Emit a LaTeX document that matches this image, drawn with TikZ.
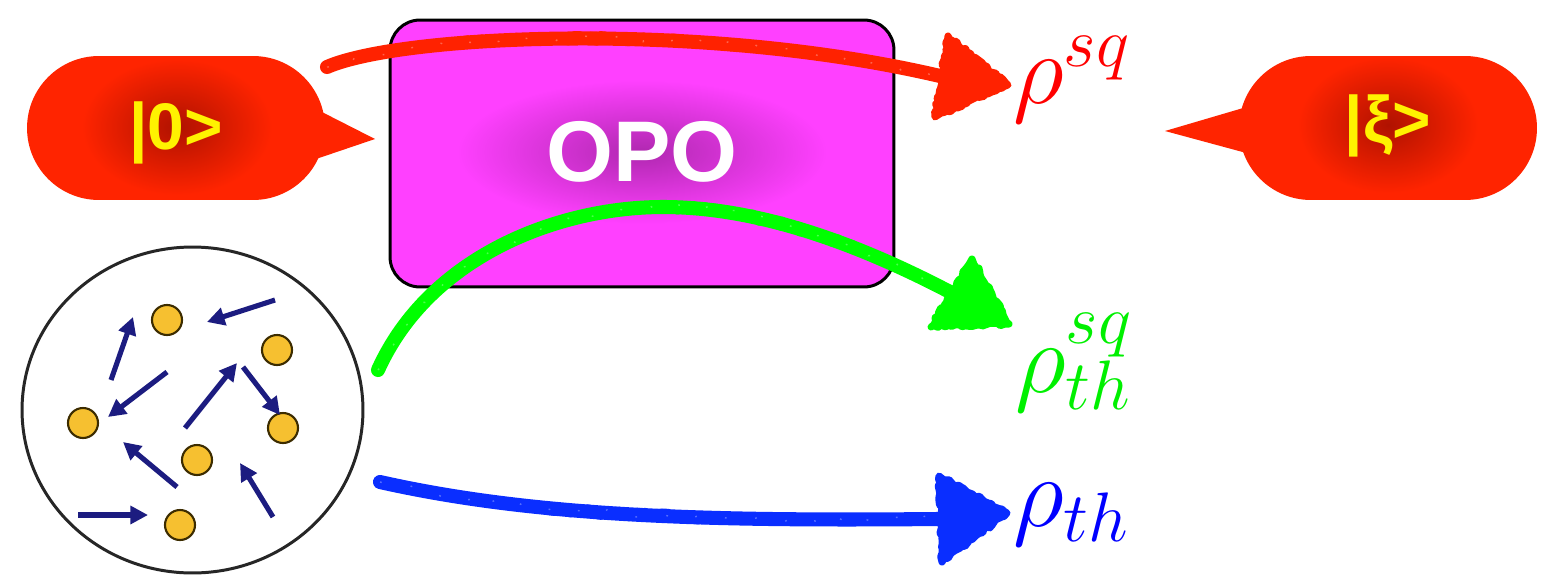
\RequirePackage{fix-cm}
\documentclass[tikz,border=0pt]{standalone}
\usepackage{fontspec}
\setsansfont{Liberation Sans}
\usetikzlibrary{arrows.meta,shapes.geometric,shapes.misc,decorations.pathmorphing}

\definecolor{bubblered}{HTML}{FF2400}
\definecolor{glowred}{HTML}{B01200}
\definecolor{opomag}{HTML}{FF40FF}
\definecolor{opoglow}{HTML}{B028B0}
\definecolor{crayonred}{HTML}{FF2200}
\definecolor{crayongreen}{HTML}{00FF00}
\definecolor{crayonblue}{HTML}{0A2EFF}
\definecolor{labelred}{HTML}{FF0000}
\definecolor{labelgreen}{HTML}{00F000}
\definecolor{labelblue}{HTML}{0000FF}
\definecolor{molnavy}{HTML}{1C1C80}
\definecolor{molgold}{HTML}{F6C030}
\definecolor{moledge}{HTML}{3C2C00}

\tikzset{
  bubble/.style={rounded rectangle, fill=bubblered, draw=none, inner sep=0pt,
    minimum width=5.96cm, minimum height=2.88cm, text=yellow,
    font=\fontsize{37.5}{45}\selectfont\sffamily\bfseries},
  opobox/.style={rectangle, rounded corners=0.6cm, fill=opomag, draw=black,
    line width=1.7pt, inner sep=0pt, minimum width=10.08cm, minimum height=5.34cm,
    text=white, font=\fontsize{49}{58}\selectfont\sffamily\bfseries},
  gasball/.style={ellipse, draw=black!85, line width=1.7pt, fill=white,
    minimum width=6.82cm, minimum height=6.52cm, inner sep=0pt},
  particle/.style={circle, fill=molgold, draw=moledge, line width=1.2pt,
    minimum size=0.6cm, inner sep=0pt},
  molarrow/.style={draw=molnavy, line width=2.9pt,
    -{Triangle[length=10pt 0 0, width=10pt 0 0]}},
  crayon/.style={draw=#1, line width=8pt, line cap=round},
  rough/.style={draw=#1, line width=3pt, line join=round, line cap=round,
    decorate, decoration={random steps, segment length=2.5pt, amplitude=1pt}},
  speck/.style={draw=white, line width=0.8pt, opacity=0.3,
    dash pattern=on 1pt off 17pt, decorate,
    decoration={random steps, segment length=3pt, amplitude=1.8pt}},
  crayonhead/.style={fill=#1, draw=#1, line width=4pt, line join=round,
    decorate, decoration={random steps, segment length=2pt, amplitude=0.9pt}},
  lab/.style={inner sep=0pt, anchor=base west, font=\fontsize{57}{68}\selectfont},
}

\newcommand\redpath{(redStart) .. controls (400,35) and (700,20) .. (redBase)}
\newcommand\greenpath{(greenStart) .. controls (430,255) and (560,207) .. (663,207)
  .. controls (760,207) and (860,245) .. (greenBase)}
\newcommand\bluepath{(blueStart) .. controls (540,518) and (720,521) .. (blueBase)}

\begin{document}
\begin{tikzpicture}[x=0.02cm, y=-0.02cm]
\pgfmathsetseed{4242}
\fill[white] (0,0) rectangle (1558,585);
\useasboundingbox (0,0) rectangle (1558,585);

% vacuum input bubble, with a soft dark glow behind its text
\fill[bubblered] (318,110) -- (375,139) -- (316,159) -- cycle;
\node[bubble, text height=25pt, text depth=0pt] (ket0) at (176,128) {};
\shade[inner color=glowred, outer color=bubblered] (177,127) ellipse (95 and 68);
\node[bubble, fill=none, text height=25pt, text depth=0pt] (ket0text) at (ket0) {|0>};

% squeezed state bubble
\fill[bubblered] (1250,106) -- (1165,131) -- (1250,154) -- cycle;
\node[bubble, text height=16pt, text depth=0pt] (ketXi) at (1388,128) {};
\shade[inner color=glowred, outer color=bubblered] (1388,125) ellipse (90 and 68);
\node[bubble, fill=none, text height=16pt, text depth=0pt] (ketXitext) at (ketXi) {|ξ>};

% the parametric oscillator
\node[opobox] (opo) at (642,153.5) {};
\shade[inner color=opoglow, outer color=opomag] (642,152) ellipse (185 and 72);
\node[opobox, fill=none, draw=none, text height=32.4pt, text depth=0pt] (opotext) at (opo) {OPO};

% thermal gas
\node[gasball] (gas) at (192.5,410) {};
\node[particle] (p1) at (167,320) {};
\node[particle] (p2) at (277,350) {};
\node[particle] (p3) at (83,423) {};
\node[particle] (p4) at (283,428) {};
\node[particle] (p5) at (197,460) {};
\node[particle] (p6) at (180,525) {};
\draw[molarrow] (111,380) -- (133,317);
\draw[molarrow] (275,300) -- (207,322);
\draw[molarrow] (167,372) -- (108,417);
\draw[molarrow] (185,428) -- (237,363);
\draw[molarrow] (243,367) -- (280,415);
\draw[molarrow] (177,487) -- (123,442);
\draw[molarrow] (273,517) -- (240,463);
\draw[molarrow] (78,515) -- (148,515);

% output labels
\node[lab, text=labelred] (rhoSq) at (1013,103) {$\rho^{sq}$};
\node[lab, text=labelgreen] (rhoSqTh) at (1015,392) {$\rho^{sq}_{th}$};
\node[lab, text=labelblue] (rhoTh) at (1013,526) {$\rho_{th}$};

% crayon strokes: shaft, rough edges, paper specks, then the head
\coordinate (redStart) at (327,67);
\coordinate (redBase) at (940,76);
\coordinate (redTip) at (1008,85);
\coordinate (greenStart) at (378,370);
\coordinate (greenBase) at (950,292);
\coordinate (greenTip) at (1009,324);
\coordinate (blueStart) at (380,482);
\coordinate (blueBase) at (938,519);
\coordinate (blueTip) at (1007,513);

\draw[crayon=crayonred] \redpath;
\draw[rough=crayonred, xshift=0.6pt, yshift=2.4pt] \redpath;
\draw[rough=crayonred, xshift=-0.6pt, yshift=-2.4pt] \redpath;
\draw[speck] \redpath;
\path[crayonhead=crayonred] (948,36) -- (935,117) -- (redTip) -- cycle;

\draw[crayon=crayongreen] \greenpath;
\draw[rough=crayongreen, xshift=1.6pt, yshift=1.6pt] \greenpath;
\draw[rough=crayongreen, xshift=-1.6pt, yshift=-1.6pt] \greenpath;
\draw[speck] \greenpath;
\path[crayonhead=crayongreen] (972,259) -- (931,327) -- (greenTip) -- cycle;

\draw[crayon=crayonblue] \bluepath;
\draw[rough=crayonblue, yshift=2.4pt] \bluepath;
\draw[rough=crayonblue, yshift=-2.4pt] \bluepath;
\draw[speck] \bluepath;
\path[crayonhead=crayonblue] (939,476) -- (942,562) -- (blueTip) -- cycle;
\end{tikzpicture}
\end{document}
